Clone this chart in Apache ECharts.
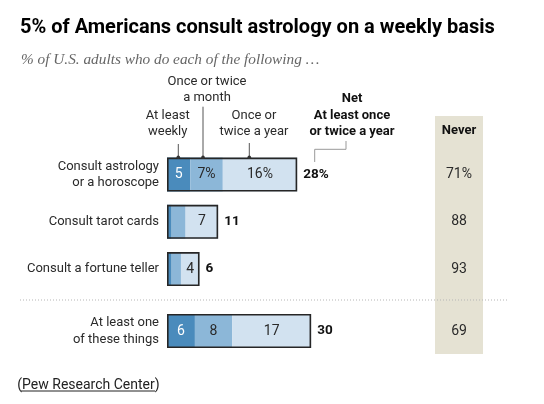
<!DOCTYPE html>
<html><head><meta charset="utf-8">
<script src="https://cdn.jsdelivr.net/npm/echarts@6/dist/echarts.min.js"></script>
<style>html,body{margin:0;padding:0;background:#fff}#c{width:544px;height:404px}</style>
</head><body><div id="c"></div>
<script>
// ---- data ----
const categories = ['Consult astrology\nor a horoscope', 'Consult tarot cards', 'Consult a fortune teller', 'At least one\nof these things'];
const weekly  = [5, 1, 1, 6];
const monthly = [7, 3, 2, 8];
const yearly  = [16, 7, 4, 17];
const net     = [28, 11, 6, 30];
const never   = [71, 88, 93, 69];
const titleText = '5% of Americans consult astrology on a weekly basis';
const subtitleText = '% of U.S. adults who do each of the following \u2026';
const sourceText = 'Pew Research Center';

// ---- layout / style ----
const FONT = 'Roboto';
const COLORS = {weekly: '#4a8bbc', monthly: '#8cb7d8', yearly: '#d2e2f0', border: '#262626', never: '#e5e2d3', text: '#2a2a2a'};
const groups = [[0, 1, 2], [3]];
const barGrids = [{left: 167, width: 279, top: 150.9, height: 141.75}, {left: 167, width: 279, top: 314, height: 34}];
const neverGrids = [{left: 435, width: 48, top: 150.9, height: 141.75}, {left: 435, width: 48, top: 314, height: 34}];
const XMAX = 60;

const grid = [];
const xAxis = [];
const yAxis = [];
const series = [];

function segLabel(name, arr, idx, color) {
  return {
    show: true, position: 'inside', color: color, fontFamily: FONT, fontSize: 14,
    formatter: p => {
      const i = idx[p.dataIndex];
      const v = arr[i];
      if (v < 4) return '';
      return v + (i === 0 && name !== 'weekly' ? '%' : '');
    }
  };
}

groups.forEach((idx, g) => {
  // bar grid
  grid.push(Object.assign({containLabel: false, outerBoundsMode: 'none'}, barGrids[g]));
  const bg = grid.length - 1;
  xAxis.push({type: 'value', gridIndex: bg, min: 0, max: XMAX, show: false});
  const bx = xAxis.length - 1;
  yAxis.push({
    type: 'category', gridIndex: bg, inverse: true, data: idx.map(i => categories[i]),
    axisLine: {show: false}, axisTick: {show: false}, splitLine: {show: false},
    axisLabel: {margin: 8, color: COLORS.text, fontFamily: FONT, fontSize: 13, lineHeight: 16.5, align: 'right'}
  });
  const by = yAxis.length - 1;
  const mk = (name, arr, color, labelColor) => ({
    type: 'bar', name: name, xAxisIndex: bx, yAxisIndex: by, stack: 'f' + g, barWidth: 34, barGap: '-100%',
    data: idx.map(i => arr[i]), itemStyle: {color: color}, label: segLabel(name, arr, idx, labelColor),
    emphasis: {disabled: true}, silent: true, animation: false
  });
  series.push(mk('weekly', weekly, COLORS.weekly, '#fff'));
  series.push(mk('monthly', monthly, COLORS.monthly, COLORS.text));
  series.push(mk('yearly', yearly, COLORS.yearly, COLORS.text));
  series.push({
    type: 'bar', name: 'net', xAxisIndex: bx, yAxisIndex: by, barWidth: 34, barGap: '-100%',
    data: idx.map(i => weekly[i] + monthly[i] + yearly[i]),
    itemStyle: {color: 'rgba(0,0,0,0)', borderColor: COLORS.border, borderWidth: 1.6},
    label: {show: true, position: 'right', distance: 6, color: '#111', fontFamily: FONT, fontSize: 13.5, fontWeight: 'bold',
      formatter: p => { const i = idx[p.dataIndex]; return net[i] + (i === 0 ? '%' : ''); }},
    emphasis: {disabled: true}, silent: true, animation: false, z: 3
  });
  // never column grid
  grid.push(Object.assign({containLabel: false, outerBoundsMode: 'none'}, neverGrids[g]));
  const ng = grid.length - 1;
  xAxis.push({type: 'category', gridIndex: ng, data: ['Never'], show: false});
  yAxis.push({type: 'category', gridIndex: ng, inverse: true, data: idx.map(i => categories[i]), show: false});
  series.push({
    type: 'scatter', xAxisIndex: xAxis.length - 1, yAxisIndex: yAxis.length - 1, symbolSize: 1,
    itemStyle: {color: 'rgba(0,0,0,0)', opacity: 1},
    data: idx.map((i, k) => [0, k, never[i]]),
    label: {show: true, position: 'inside', color: COLORS.text, opacity: 1, fontFamily: FONT, fontSize: 14,
      formatter: p => { const i = idx[p.dataIndex]; return never[i] + (i === 0 ? '%' : ''); }},
    emphasis: {disabled: true}, silent: true, animation: false, z: 5
  });
});

function txt(s, x, y, opt) {
  opt = opt || {};
  return {type: 'text', silent: true, z: 10, style: {
    text: s, x: x, y: y, textAlign: opt.align || 'center', textVerticalAlign: 'middle',
    font: (opt.bold ? 'bold ' : '') + (opt.size || 13) + 'px ' + FONT, fill: opt.color || COLORS.text
  }};
}
function line(x1, y1, x2, y2, color, dash) {
  return {type: 'line', silent: true, z: 10, shape: {x1, y1, x2, y2},
    style: {stroke: color || '#666', lineWidth: 1, lineDash: dash || null}};
}
function dot(x, y) {
  return {type: 'circle', silent: true, z: 11, shape: {cx: x, cy: y, r: 1.8}, style: {fill: '#333'}};
}

const graphic = [
  {type: 'rect', silent: true, z: -1, shape: {x: 435, y: 116, width: 48, height: 238}, style: {fill: COLORS.never}},
  txt('Once or twice', 207, 81.7), txt('a month', 207, 97.5),
  txt('At least', 167.7, 115.7), txt('weekly', 167.7, 131.7),
  txt('Once or', 254, 115.7), txt('twice a year', 254, 131.7),
  txt('Net', 352, 99, {bold: true, color: '#111'}), txt('At least once', 352, 115.7, {bold: true, color: '#111'}),
  txt('or twice a year', 352, 132, {bold: true, color: '#111'}),
  txt('Never', 459, 130.7, {bold: true, color: '#111'}),
  line(178.3, 144, 178.3, 157.3, '#555'), dot(178.3, 157.3),
  line(203, 106.7, 203, 157.3, '#555'), dot(203, 157.3),
  line(249.3, 143, 249.3, 157.3, '#555'), dot(249.3, 157.3),
  {type: 'polyline', silent: true, z: 10, shape: {points: [[346, 141], [346, 149.3], [314.7, 149.3], [314.7, 162]]},
    style: {stroke: '#999', lineWidth: 1, fill: null}},
  line(20, 300, 508, 300, '#b5b5b5', [1, 2]),
  txt('(' + sourceText + ')', 17.3, 385, {align: 'left', size: 14, color: '#222'}),
  line(21, 391, 155, 391, '#222')
];

const chart = echarts.init(document.getElementById('c'), null, {renderer: 'canvas'});
chart.setOption({
  backgroundColor: '#fff',
  animation: false,
  title: [
    {text: titleText, left: 20, top: 18, padding: 0,
      textStyle: {fontFamily: FONT, fontWeight: 'bold', fontSize: 20, color: '#000'}},
    {text: subtitleText, left: 21, top: 52, padding: 0,
      textStyle: {fontFamily: 'Liberation Serif', fontStyle: 'italic', fontWeight: 'normal', fontSize: 15.3, color: '#666'}}
  ],
  grid: grid, xAxis: xAxis, yAxis: yAxis, series: series, graphic: graphic
});
</script>
</body></html>
